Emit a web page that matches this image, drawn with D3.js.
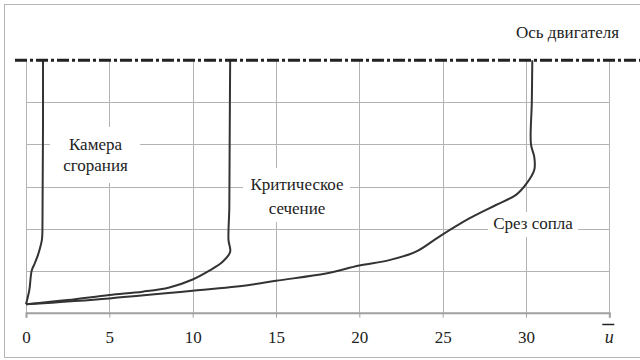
<!DOCTYPE html>
<html>
<head>
<meta charset="utf-8">
<script src="https://cdn.jsdelivr.net/npm/d3@7"></script>
<style>
  html, body { margin: 0; padding: 0; background: #fff; }
  svg { display: block; }
  svg text { font-family: "Liberation Serif", "Tinos", "Times New Roman", "Times", "Nimbus Roman", "Noto Serif", "FreeSerif", "DejaVu Serif", "Noto Serif CJK SC", serif !important; fill: #222; }
</style>
</head>
<body>
<svg id="chart" width="640" height="360"></svg>
<script>
// Velocity profiles u̅(r) for three engine cross-sections
const xTicks = [0, 5, 10, 15, 20, 25, 30, 35];
const yTicks = [0, 1, 2, 3, 4, 5, 6];

const chamberU = [0, 0.2, 0.34, 0.5, 0.7, 0.85, 0.96, 0.99, 1.0, 1.02, 1.02];
const chamberR = [0.2, 0.54, 1.0, 1.15, 1.35, 1.55, 1.75, 2.2, 3.0, 4.5, 6.0];

const throatU = [0, 2.5, 5, 7, 8.6, 10, 11, 11.8, 12.25, 12.15, 12.2, 12.22, 12.25];
const throatR = [0.2, 0.3, 0.42, 0.5, 0.6, 0.79, 1.0, 1.21, 1.45, 1.73, 2.5, 4.0, 6.0];

const exitU = [0, 5, 10, 13.4, 15, 18, 20, 21.8, 23.4, 24.8, 26.6, 28.2, 29.4, 30.05, 30.5, 30.5, 30.3, 30.35, 30.38];
const exitR = [0.2, 0.34, 0.52, 0.66, 0.76, 0.93, 1.12, 1.25, 1.45, 1.81, 2.24, 2.56, 2.8, 3.08, 3.4, 3.7, 4.0, 5.0, 6.0];

const seriesNames = ["Камера сгорания", "Критическое сечение", "Срез сопла"];
const axisName = "Ось двигателя";

const svg = d3.select("#chart");

const x = d3.scaleLinear().domain([0, 35]).range([26, 609.3]);
const y = d3.scaleLinear().domain([0, 6]).range([312.7, 60.3]);

// outer frame
svg.append("rect")
  .attr("x", 4.5).attr("y", 4.5)
  .attr("width", 660).attr("height", 353)
  .attr("fill", "none").attr("stroke", "#b5b5b5").attr("stroke-width", 1);

// grid
const grid = svg.append("g").attr("stroke", "#b3b3b3").attr("stroke-width", 1);
grid.selectAll("line.v").data(xTicks).join("line")
  .attr("x1", d => Math.round(x(d)) + 0.5).attr("x2", d => Math.round(x(d)) + 0.5)
  .attr("y1", y(0)).attr("y2", y(6));
grid.selectAll("line.h").data(yTicks.slice(1, -1)).join("line")
  .attr("x1", x(0)).attr("x2", x(35))
  .attr("y1", d => Math.round(y(d)) + 0.5).attr("y2", d => Math.round(y(d)) + 0.5);

// x axis
const xAxis = d3.axisBottom(x)
  .tickValues(xTicks)
  .tickSize(5)
  .tickPadding(13)
  .tickFormat(d => d === 35 ? "" : d);
const ax = svg.append("g").attr("transform", `translate(0,${y(0)})`).call(xAxis)
  .attr("font-family", null).attr("font-size", 17);
ax.select(".domain").attr("stroke", "#a0a0a0").attr("stroke-width", 2);
ax.selectAll(".tick line").attr("stroke", "#a0a0a0").attr("stroke-width", 1);
ax.selectAll(".tick text").attr("fill", "#222");

// axis title: u with overline
svg.append("text")
  .attr("x", x(35)).attr("y", 343)
  .attr("text-anchor", "middle")
  .attr("font-size", 18).attr("font-style", "italic")
  .text("u");
svg.append("line")
  .attr("x1", x(35) - 7).attr("x2", x(35) + 5)
  .attr("y1", 324.5).attr("y2", 324.5)
  .attr("stroke", "#222").attr("stroke-width", 1.5);

// label backgrounds (cut the grid)
const boxes = [
  { x0: 50, y0: 127, x1: 140, y1: 183 },
  { x0: 243, y0: 168, x1: 350, y1: 222 },
  { x0: 488, y0: 212, x1: 578, y1: 237 }
];
svg.append("g").selectAll("rect").data(boxes).join("rect")
  .attr("x", d => d.x0).attr("y", d => d.y0)
  .attr("width", d => d.x1 - d.x0).attr("height", d => d.y1 - d.y0)
  .attr("fill", "#fff");

// profiles
const line = d3.line()
  .x(d => x(d[0])).y(d => y(d[1]))
  .curve(d3.curveCatmullRom.alpha(0.5));
const profiles = [
  d3.zip(chamberU, chamberR),
  d3.zip(throatU, throatR),
  d3.zip(exitU, exitR)
];
svg.append("g").selectAll("path").data(profiles).join("path")
  .attr("d", line)
  .attr("fill", "none")
  .attr("stroke", "#333")
  .attr("stroke-width", 2)
  .attr("stroke-linejoin", "round");

// engine axis (dash-dot)
svg.append("line")
  .attr("x1", 15).attr("x2", 640)
  .attr("y1", y(6)).attr("y2", y(6))
  .attr("stroke", "#222").attr("stroke-width", 3)
  .attr("stroke-dasharray", "12,3,3,3");

// labels
const lbl = svg.append("g").attr("font-size", 17).attr("text-anchor", "middle");
lbl.append("text").attr("x", 95.5).attr("y", 150).text(seriesNames[0].split(" ")[0]);
lbl.append("text").attr("x", 95.5).attr("y", 171).text(seriesNames[0].split(" ")[1]);
lbl.append("text").attr("x", 297).attr("y", 189.5).text(seriesNames[1].split(" ")[0]);
lbl.append("text").attr("x", 297).attr("y", 213.5).text(seriesNames[1].split(" ")[1]);
lbl.append("text").attr("x", 533).attr("y", 228.5).text(seriesNames[2]);
lbl.append("text").attr("x", 619).attr("y", 38).attr("text-anchor", "end").text(axisName);
</script>
</body>
</html>
